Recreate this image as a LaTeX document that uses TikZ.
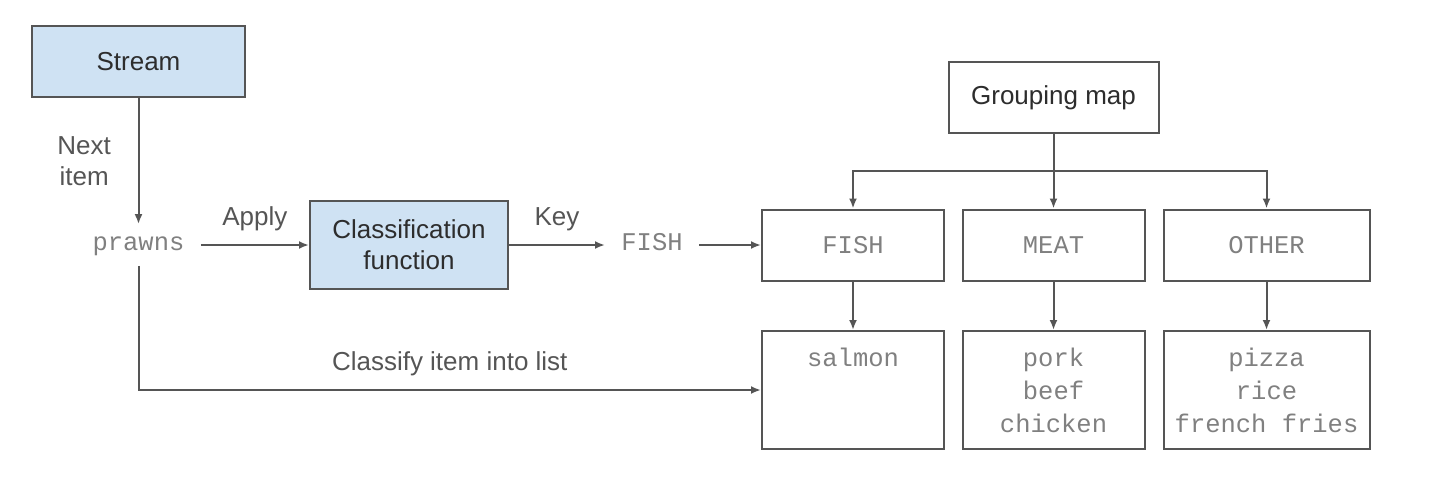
\documentclass[tikz,border=0pt]{standalone}
\usepackage{fontspec}
\setsansfont{Liberation Sans}
\setmonofont{Liberation Mono}
\usepackage{xcolor}
\usepackage{tikz}
\usetikzlibrary{arrows.meta, positioning, calc}

\definecolor{streamblue}{RGB}{207,226,243}
\definecolor{linegray}{RGB}{85,85,85}
\definecolor{textgray}{RGB}{45,45,45}
\definecolor{monogray}{RGB}{128,128,128}

\begin{document}
\begin{tikzpicture}[
    font=\sffamily\fontsize{13}{15.5}\selectfont,
    text=textgray,
    on grid,
    block/.style={rectangle, draw=linegray, line width=1pt, fill=#1, minimum height=35.5pt, align=center},
    block/.default=white,
    keyword/.style={font=\ttfamily\fontsize{12.75}{16.5}\selectfont, text=monogray, inner xsep=8pt, inner ysep=5pt, text height=8pt, text depth=2.5pt},
    bucket/.style={rectangle, draw=linegray, line width=1pt, minimum width=#1, minimum height=35.5pt, align=center, font=\ttfamily\fontsize{12.75}{16.5}\selectfont, text=monogray},
    bucket/.default=91pt,
    itemlist/.style={bucket=#1, minimum height=59pt},
    itemlist/.default=91pt,
    connection/.style={-{Latex[length=5pt, width=4pt]}, line width=1pt, color=linegray},
]
    \useasboundingbox (0,0) rectangle (727pt,-238pt);

    % Left: stream and classifier
    \node[block=streamblue, minimum width=106.5pt] (stream) at (69.25pt,-31pt) {Stream};
    \node[keyword, below=91.5pt of stream] (prawns) {prawns};
    \node[block=streamblue, minimum width=99pt, minimum height=44pt, right=135.25pt of prawns] (classify) {Classification\\function};
    \node[keyword, right=121.5pt of classify] (fishkey) {FISH};

    % Right: grouping map and its keys
    \node[bucket, right=100.5pt of fishkey] (fish) {FISH};
    \node[bucket, right=100.25pt of fish] (meat) {MEAT};
    \node[bucket=103pt, right=106.5pt of meat] (other) {OTHER};
    \node[block, minimum width=105pt, above=73.75pt of meat] (group) {Grouping map};

    % Lists per key
    \node[itemlist, below=72.5pt of fish] (salmon) {salmon\\\mbox{}\\\mbox{}};
    \node[itemlist, below=72.5pt of meat] (meatlist) {pork\\beef\\chicken};
    \node[itemlist=103pt, below=72.5pt of other] (otherlist) {pizza\\rice\\french fries};

    % Flow connections
    \draw[connection] (stream) -- node[left=10pt, align=center] {Next\\item} (prawns);
    \draw[connection] (prawns) -- node[above=3pt] {Apply} (classify);
    \draw[connection] (classify) -- node[above=3pt] {Key} (fishkey);
    \draw[connection] (fishkey) -- (fish);
    \draw[connection] (prawns) |- node[above=3pt, pos=0.75] {Classify item into list} (salmon);

    % Map to keys
    \coordinate (branch) at ($(group.south)!0.5!(meat.north)$);
    \draw[connection] (group) -- (meat);
    \draw[connection] (branch) -| (fish);
    \draw[connection] (branch) -| (other);

    % Keys to lists
    \draw[connection] (fish) -- (salmon);
    \draw[connection] (meat) -- (meatlist);
    \draw[connection] (other) -- (otherlist);
\end{tikzpicture}
\end{document}
